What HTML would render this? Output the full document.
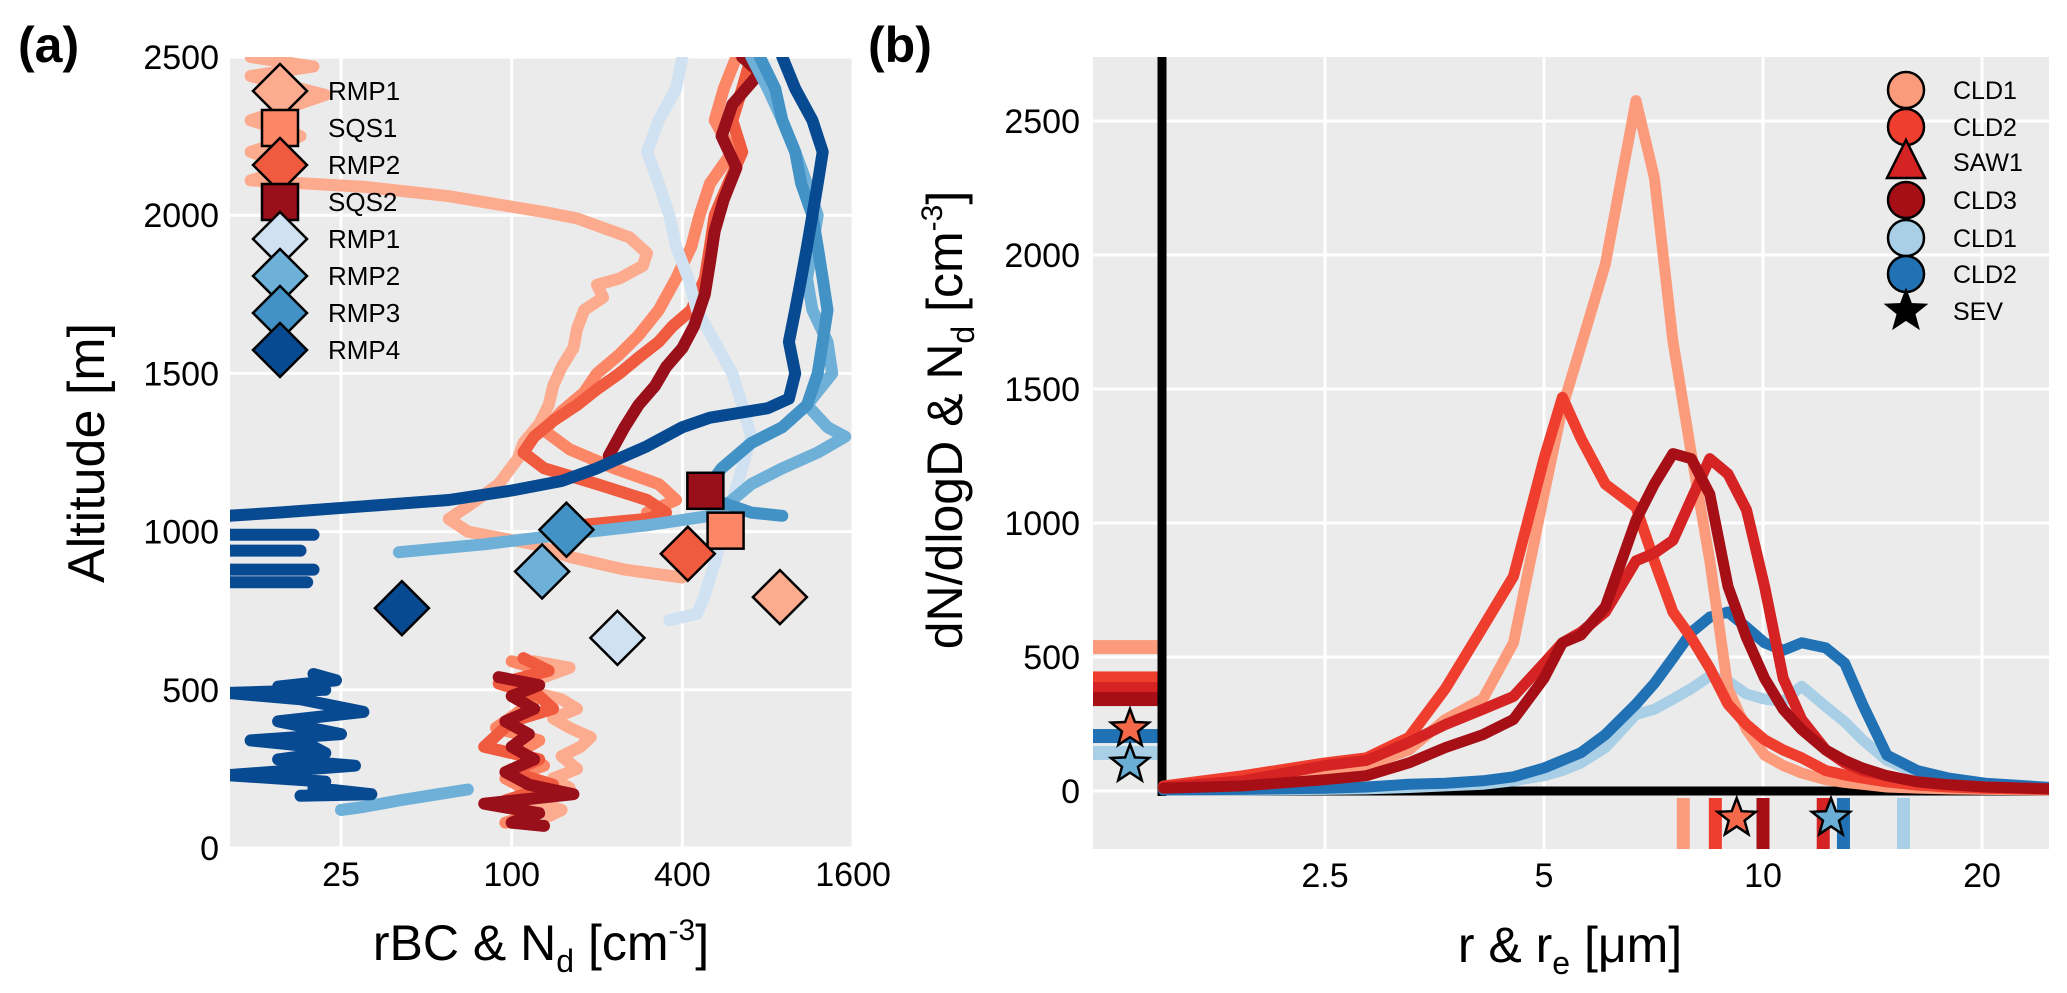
<!DOCTYPE html>
<html><head><meta charset="utf-8"><style>
html,body{margin:0;padding:0;background:#fff;}
svg{display:block;font-family:"Liberation Sans",sans-serif;}
</style></head><body>
<svg id="fig" width="2067" height="993" viewBox="0 0 2067 993" xmlns="http://www.w3.org/2000/svg">
  <defs>
    <clipPath id="clipA"><rect x="230" y="57" width="623" height="791"/></clipPath>
    <clipPath id="clipB"><rect x="1093" y="57" width="956" height="792"/></clipPath>
  </defs>
  <text x="18" y="62" font-size="50" font-weight="bold">(a)</text>
  <text x="868" y="62" font-size="50" font-weight="bold">(b)</text>
  <rect x="230" y="57" width="623" height="791" fill="#ebebeb"/>
  <rect x="1093" y="57" width="956" height="792" fill="#ebebeb"/>
  <g id="gridA"></g>
  <g id="gridB"></g>
  <g id="linesA" clip-path="url(#clipA)"></g>
  <g id="marksA"></g>
  <g id="linesB" clip-path="url(#clipB)"></g>
  <g id="ticksA"></g>
  <g id="ticksB"></g>
  <g id="legA"></g>
  <g id="legB"></g>
  <text transform="translate(104,453) rotate(-90)" text-anchor="middle" font-size="52">Altitude [m]</text>
  <text x="541" y="960" text-anchor="middle" font-size="50">rBC &amp; N<tspan font-size="32" dy="12">d</tspan><tspan dy="-12"> [cm</tspan><tspan font-size="30" dy="-20">-3</tspan><tspan dy="20">]</tspan></text>
  <text transform="translate(962,420) rotate(-90)" text-anchor="middle" font-size="50">dN/dlogD &amp; N<tspan font-size="32" dy="12">d</tspan><tspan dy="-12"> [cm</tspan><tspan font-size="30" dy="-20">-3</tspan><tspan dy="20">]</tspan></text>
  <text x="1570" y="962" text-anchor="middle" font-size="50">r &amp; r<tspan font-size="32" dy="12">e</tspan><tspan dy="-12"> [μm]</tspan></text>
</svg>
<script>
const NS="http://www.w3.org/2000/svg";
// ---------- Panel (a) data ----------
const aXTicks=[25,100,400,1600];
const aXTickLabels=["25","100","400","1600"];
const aYTicks=[0,500,1000,1500,2000,2500];
const aNames=["RMP1","SQS1","RMP2","SQS2","RMP1","RMP2","RMP3","RMP4"];
const aColors=["#fcab8e","#fc8767","#f05a3f","#99101a","#d0e1f2","#6fb0d8","#4292c6","#084a91"];
const aShapes=["d","s","d","s","d","d","d","d"];
const aMarkerVal=[883,568,418,482,236,128,156,41];
const aMarkerAlt=[793,1003,930,1129,664,874,1006,758];
const p0v=[12,20,12,22,12,18,12,17,12,30,60,95,130,170,210,260,300,290,240,200,210,180,170,165,150,140,135,125,110,105,90,70,60,70,120,160,250,400,null,120,160,130,110,150,170,140,160,190,175,150,170,140,160,120,150,135];
const p0a=[2500,2470,2440,2380,2300,2250,2200,2150,2110,2090,2060,2030,2010,1990,1960,1930,1880,1840,1800,1780,1740,1700,1640,1580,1520,1460,1400,1340,1280,1230,1150,1080,1040,1000,960,920,880,855,null,590,570,540,500,470,440,410,380,350,320,290,250,220,190,150,120,100];
const p1v=[620,560,520,600,500,460,430,380,330,280,240,200,180,150,130,160,230,330,380,300,null,100,130,95,125,110,88,125,105,130,95,115,100,120,95];
const p1a=[2500,2400,2300,2200,2100,2000,1900,1800,1700,1620,1560,1500,1440,1380,1320,1260,1200,1150,1100,1060,null,590,560,520,480,440,380,340,300,260,220,180,140,110,80];
const p2v=[700,650,600,650,580,520,500,480,430,370,330,280,240,200,170,140,120,110,130,200,300,350,300,170,null,110,135,90,125,140,100,80,125,100,140,95,115,100];
const p2a=[2500,2400,2300,2200,2100,2000,1900,1800,1700,1650,1600,1550,1500,1450,1400,1350,1300,1250,1200,1150,1100,1060,1040,1020,null,600,560,520,480,440,400,320,280,240,200,150,110,80];
const p3v=[650,750,600,550,620,560,520,500,480,440,400,350,320,280,250,220,null,90,125,100,120,95,115,100,120,95,115,165,80,125,100,130];
const p3a=[2500,2450,2350,2250,2150,2050,1950,1850,1750,1650,1580,1520,1460,1400,1330,1240,null,540,515,480,440,400,360,320,280,240,200,170,140,110,80,70];
const p4v=[400,380,330,300,330,360,380,420,450,520,600,650,700,650,600,560,520,480,450,360];
const p4a=[2500,2400,2300,2200,2100,2000,1900,1800,1700,1600,1500,1400,1300,1200,1100,1000,900,800,740,720];
const p5v=[700,800,900,1000,1100,1200,1150,1100,1150,1300,1350,1100,1300,1500,1200,900,700,600,500,300,150,80,40,null,70,55,40,30,25];
const p5a=[2500,2400,2300,2200,2100,2000,1900,1800,1700,1600,1500,1400,1330,1300,1250,1200,1150,1100,1050,1020,990,960,935,null,185,170,150,130,120];
const p6v=[750,850,900,1000,1050,1150,1200,1250,1300,1250,1200,1100,900,700,550,500,520,700,900];
const p6a=[2500,2400,2300,2200,2100,2000,1900,1800,1700,1600,1500,1400,1330,1280,1200,1150,1100,1060,1050];
const p7v=[900,1000,1150,1250,1200,1150,1100,1050,1000,950,1000,950,800,500,400,300,200,150,100,60,30,15,10,null,10,20,null,10,18,null,10,20,null,10,19,null,20,24,15,22,10,18,30,15,25,12,20,22,15,28,10,22,20,32,18];
const p7a=[2500,2400,2300,2200,2100,2000,1900,1800,1700,1600,1500,1420,1390,1360,1330,1270,1200,1160,1130,1100,1080,1060,1050,null,990,990,null,940,940,null,880,880,null,840,840,null,550,530,510,500,490,470,430,400,360,340,320,300,280,260,230,210,190,170,165];
const aProfV=[p0v,p1v,p2v,p3v,p4v,p5v,p6v,p7v];
const aProfA=[p0a,p1a,p2a,p3a,p4a,p5a,p6a,p7a];

// ---------- Panel (b) data ----------
const bXTicks=[2.5,5,10,20];
const bXTickLabels=["2.5","5","10","20"];
const bYTicks=[0,500,1000,1500,2000,2500];
const rGrid=[1.5,1.93,2.5,2.85,3.26,3.66,4.12,4.54,5.0,5.3,5.62,6.07,6.69,7.09,7.52,7.97,8.45,8.95,9.49,10.05,10.66,11.3,12.2,12.95,13.7,14.8,16.3,18.0,20.2,24.9];
const cld1r=[10,23,57,95,153,267,343,553,1107,1431,1660,1965,2576,2290,1679,1259,859,382,229,134,95,67,42,32,25,15,11,8,6,4];
const cld2r=[19,57,105,124,200,382,611,801,1240,1469,1316,1145,1059,859,668,572,458,324,248,191,153,124,76,60,48,34,22,15,10,6];
const saw1=[15,38,95,114,181,248,305,353,477,553,592,668,859,887,935,1088,1240,1183,1049,763,420,267,153,105,76,57,34,23,15,8];
const cld3=[10,19,42,57,105,162,210,267,420,553,582,687,1011,1145,1259,1240,1107,763,572,420,305,229,153,114,86,57,34,23,15,8];
const cld1b=[4,4,6,8,13,19,25,38,57,76,105,162,286,305,343,382,429,410,362,343,334,391,315,258,191,114,67,42,25,10];
const cld2b=[4,6,10,15,25,29,38,53,86,114,143,210,324,401,496,592,649,668,611,553,525,553,534,477,324,134,76,48,29,13];
const bSeries=[cld1r,cld2r,saw1,cld3,cld1b,cld2b];
const bNames=["CLD1","CLD2","SAW1","CLD3","CLD1","CLD2","SEV"];
const bColors=["#fc9b7c","#ef3d2e","#d42322","#a50f15","#a8cfe5","#2171b5"];
const bNd=[537,420,380,343,142,205];
const bRe=[7.77,8.6,12.1,10.0,15.6,12.9];
const sevNd=[232,100];
const sevRe=[9.2,12.4];
const sevColors=["#f4694a","#6aaed6"];

// ---------- scales ----------
const xA=v=>341+170.7*Math.log(v/25)/Math.log(4);
const yA=a=>848-0.3164*a;
const xB=r=>1325+219*Math.log2(r/2.5);
const yB=v=>791-0.268*v;

function mk(tag,attrs,parent){const e=document.createElementNS(NS,tag);for(const k in attrs)e.setAttribute(k,attrs[k]);parent.appendChild(e);return e;}
const $=id=>document.getElementById(id);

aXTicks.forEach((t,i)=>{const l=mk('line',{x1:xA(t),x2:xA(t),y1:57,y2:848,stroke:'#fff','stroke-width':3},$('gridA'));


const tx=mk('text',{x:xA(t),y:886,'text-anchor':'middle','font-size':34},$('ticksA'));tx.textContent=aXTickLabels[i];

});
aYTicks.forEach(t=>{const l=mk('line',{x1:230,x2:853,y1:yA(t),y2:yA(t),stroke:'#fff','stroke-width':3},$('gridA'));


const tx=mk('text',{x:219,y:yA(t)+12,'text-anchor':'end','font-size':34},$('ticksA'));tx.textContent=t;

});
bXTicks.forEach((t,i)=>{const l=mk('line',{x1:xB(t),x2:xB(t),y1:57,y2:849,stroke:'#fff','stroke-width':3},$('gridB'));


const tx=mk('text',{x:xB(t),y:887,'text-anchor':'middle','font-size':34},$('ticksB'));tx.textContent=bXTickLabels[i];

});
bYTicks.forEach(t=>{const l=mk('line',{x1:1093,x2:2049,y1:yB(t),y2:yB(t),stroke:'#fff','stroke-width':3},$('gridB'));


const tx=mk('text',{x:1080,y:yB(t)+12,'text-anchor':'end','font-size':34},$('ticksB'));tx.textContent=t;

});

function pathFrom(vs,as,fx,fy){let d='',pen=false;for(let i=0;i<vs.length;i++){if(vs[i]===null){pen=false;continue;}d+=(pen?'L':'M')+fx(vs[i]).toFixed(1)+' '+fy(as[i]).toFixed(1);pen=true;}return d;}
const drawOrder=[0,1,2,4,3,5,6,7];
drawOrder.forEach(i=>{const p=mk('path',{d:pathFrom(aProfV[i],aProfA[i],xA,yA),fill:'none',stroke:aColors[i],'stroke-width':12,'stroke-linejoin':'round','stroke-linecap':'round'},$('linesA'));

});

function marker(shape,cx,cy,fill,parent){let e;
 if(shape==='d'){const h=27;e=mk('path',{d:`M${cx} ${cy-h}L${cx+h} ${cy}L${cx} ${cy+h}L${cx-h} ${cy}Z`,fill:fill,stroke:'#000','stroke-width':2.5},parent);}
 else if(shape==='s'){e=mk('rect',{x:cx-18,y:cy-18,width:36,height:36,fill:fill,stroke:'#000','stroke-width':2.5},parent);}
 else if(shape==='c'){e=mk('ellipse',{cx:cx,cy:cy,rx:18,ry:18,fill:fill,stroke:'#000','stroke-width':2.5},parent);}
 else if(shape==='t'){e=mk('path',{d:`M${cx} ${cy-22}L${cx+19} ${cy+16}L${cx-19} ${cy+16}Z`,fill:fill,stroke:'#000','stroke-width':2.5},parent);}
 else {e=mk('path',{d:starPath(cx,cy,20),fill:fill,stroke:'#000','stroke-width':2.5},parent);}
 return e;}
function starPath(cx,cy,R){let d='';for(let k=0;k<10;k++){const r=k%2?R*0.42:R;const a=-Math.PI/2+k*Math.PI/5;d+=(k?'L':'M')+(cx+r*Math.cos(a)).toFixed(1)+' '+(cy+r*Math.sin(a)).toFixed(1);}return d+'Z';}

aNames.forEach((n,i)=>{const m=marker(aShapes[i],xA(aMarkerVal[i]),yA(aMarkerAlt[i]),aColors[i],$('marksA'));

});
aNames.forEach((n,i)=>{const cy=91+i*37;const m=marker(aShapes[i],280,cy,aColors[i],$('legA'));


const t=mk('text',{x:328,y:cy+9,'font-size':26},$('legA'));t.textContent=n;

});

const LB=$('linesB');
bNd.forEach((v,i)=>{const r=mk('rect',{x:1093,y:yB(v)-7,width:66,height:14,fill:bColors[i]},LB);

});
bRe.forEach((v,i)=>{const r=mk('rect',{x:xB(v)-6.5,y:798,width:13,height:52,fill:bColors[i]},LB);

});
const ax1=mk('line',{x1:1162,x2:1162,y1:57,y2:796,stroke:'#000','stroke-width':9},LB);


const ax2=mk('line',{x1:1158,x2:2049,y1:yB(0),y2:yB(0),stroke:'#000','stroke-width':9},LB);


[4,5,0,1,2,3].forEach(i=>{const s=bSeries[i];let d='';rGrid.forEach((r,k)=>{d+=(k?'L':'M')+Math.max(xB(r),1162).toFixed(1)+' '+yB(s[k]).toFixed(1);});
const p=mk('path',{d:d,fill:'none',stroke:bColors[i],'stroke-width':11,'stroke-linejoin':'round','stroke-linecap':'round'},LB);

});
sevNd.forEach((v,i)=>{const m=marker('star',1130,yB(v),sevColors[i],$('linesB'));

});
sevRe.forEach((v,i)=>{const m=marker('star',xB(v),818,sevColors[i],$('linesB'));

});
const bShapes=['c','c','t','c','c','c','star'];
const bLegColors=bColors.concat(['#000']);
const bLegY=[90,127,162,200,238,274,311];
bNames.forEach((n,i)=>{const m=marker(bShapes[i],1906,bLegY[i],bLegColors[i],$('legB'));


const t=mk('text',{x:1953,y:bLegY[i]+9,'font-size':25},$('legB'));t.textContent=n;

});
</script>
</body></html>
